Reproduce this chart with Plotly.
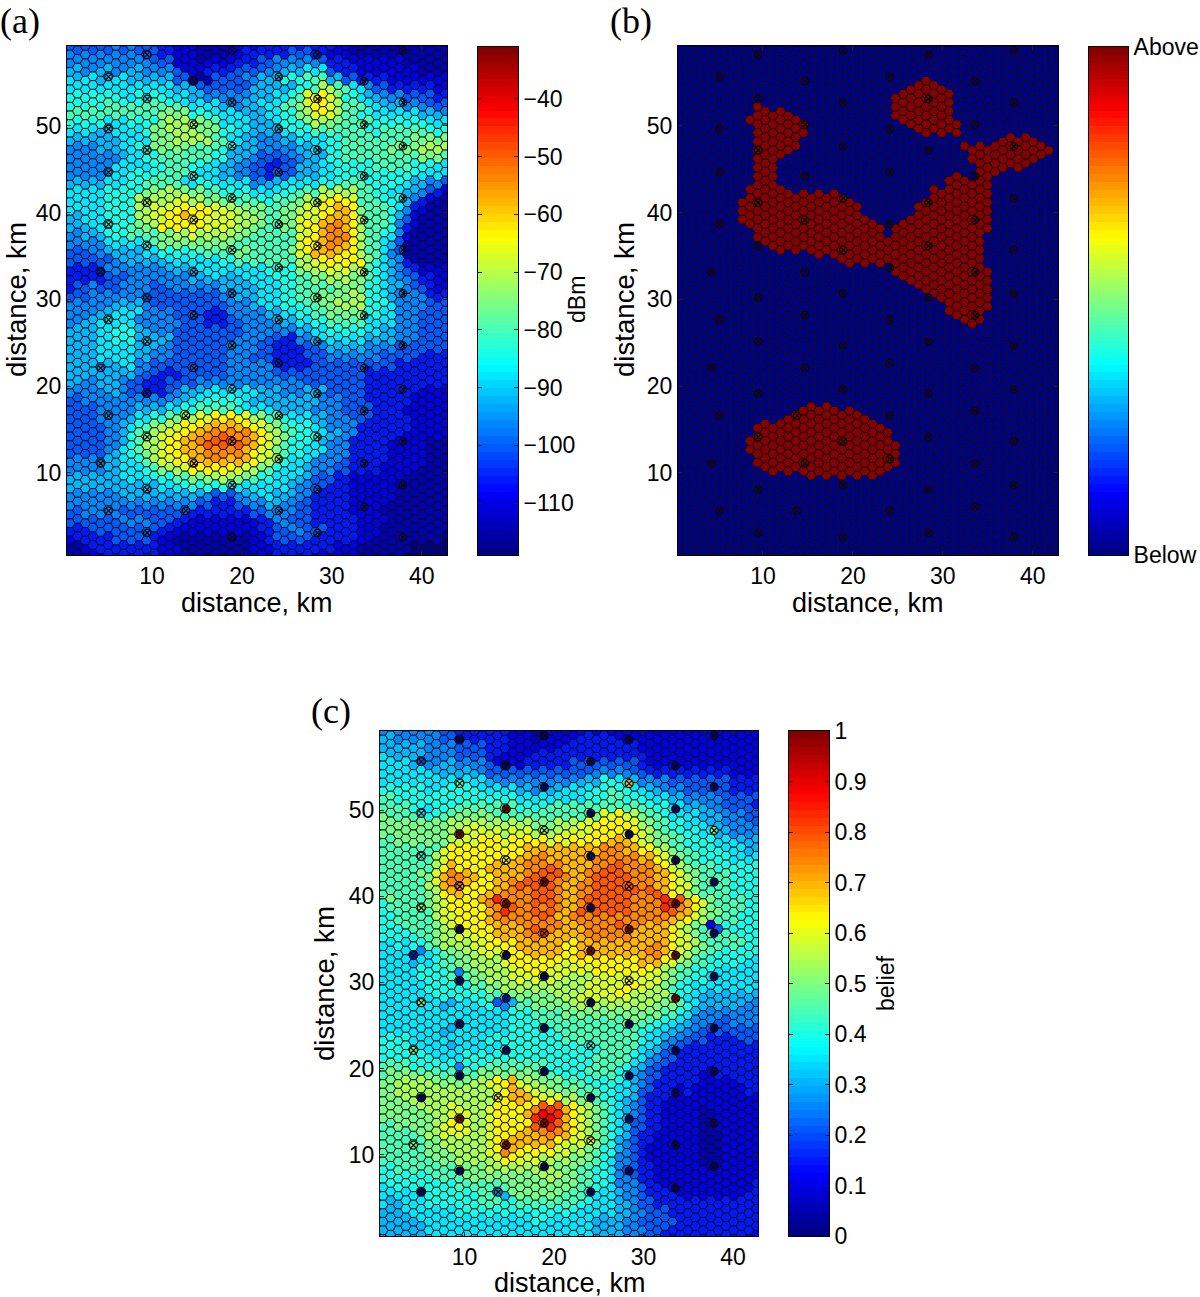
import plotly.graph_objects as go

W, H = 1200, 1297
X_STEP, X0, N_COLS = 0.852, 0.88, 50
RANGE_X, RANGE_Y = [0.55, 42.8], [0.55, 59.2]
X_TICKS = [10, 20, 30, 40]
Y_TICKS = [10, 20, 30, 40, 50]
DBM_RANGE = [-119, -31]
DBM_TICKS = [-40, -50, -60, -70, -80, -90, -100, -110]
BELIEF_TICKS = [0, .1, .2, .3, .4, .5, .6, .7, .8, .9, 1]
BELIEF_LABELS = ["0", "0.1", "0.2", "0.3", "0.4", "0.5", "0.6", "0.7", "0.8", "0.9", "1"]
LEVELS = "0123456789abcdefghij"

# Signal strength (a) as colour levels, top row (59 km) first
PANEL_A_ROWS = [
"4444455554 4333222111 1222233333 3333322211 1111111111",
"5454545454 4433222111 1223333334 4433222111 1111111111",
"5555555555 5444222122 2233344555 5554333222 2222111111",
"6655665566 5555422233 3344445566 6777433322 2222221111",
"7677667766 6666441114 4445566688 8999664433 3322222222",
"77 7777777777 7766644444 4466666688 9bb9977544 3333332222",
"88 8888877878 8777665555 556667789c ddca887665 5544443322",
"88 8889989899 9897777765 56677799ac ddcb999776 6655544433",
"99 9999999999 aaaa888777 7666778 8ab cdcb998877 7777666555",
"88 8887778888 abbbbaa977 776667888a bbaa999988 8888877777",
"77 776677778a abbbbaaa88 7766667888 9999999889 9999988888",
"66 666667777a aabbbbb997 7665556677 7788999999 999aaaaa99",
"55 556667788a aaaa999988 6665555566 7788999999 aaaabbbb99",
"55 5555567788 9999999886 6654444556 6688999999 9999aaa988",
"5 5555577777 8899988776 6554433446 6677888889 9999888777",
"5 5555577888 8999987776 6554434446 6677888888 8888877777",
"6666677788 9999977887 7777556677 7778889998 8888766554",
"7777788888 aabbbaaa99 8888777788 999bbbbb99 8877665432",
"777778888b bbbbccbbaa a999988999 abbcdddc99 9888653211",
"777778888b bcccdddddc cbbaaa99aa bccddeeda9 9987532111",
"667778888b bccddeddcc ccbbba99aa cccdeeedb9 9986421111",
"666778889a abddddddcc ccbbaa99aa cddeffedb9 9985321111",
"5566688899 99aabbcbbb bbaa999999 ccdefffdb9 9875211111",
"5555577777 89aaaaaaaa aa99999999 cddeffedb9 9764111111",
"4445566666 7788888999 99aa99999a cdeeeeddb9 9754111111",
"4444445666 6667777777 8899999999 bbcdddddda 8765311111",
"3333355555 5556666777 7777778888 abbccccbb9 8765432222",
"3333344455 5555556667 6667777888 99aabbbaa9 8765543322",
"3445444555 5445555555 6666677788 99999aaaa8 8766544322",
"4445555555 4444444444 5566677788 99aaaaabb8 8765555333",
"5555556666 5444444444 4555677788 899aabbbb8 8875555444",
"5555667777 5555444433 3555556677 8899aaaaa8 8775554444",
"5566777775 5555544433 3445555666 7788999997 7775554444",
"6666778886 6555444444 4445555555 6677888887 7665554444",
"6666778886 6666444444 4455554433 5567777776 6665554444",
"6666777776 6655444444 4555544333 3445666665 5554444444",
"6666777776 6555444444 4555444333 3444555555 5444443333",
"6666566775 5444444444 4555555333 3344444444 4443333333",
"6666666665 4433344444 4555555444 4444444443 3333333333",
"6655666544 3334444555 5555555555 5444444443 3333333333",
"5555566544 3334566677 7777766655 5666444443 3333332222",
"4455555555 5555667788 8887666666 6665554443 3333322222",
"4444555556 6667788999 9987777666 6655554444 3333222222",
"4444555567 7889abbccd dddcba9987 7766555444 3333322222",
"4444455678 9abbcdddee eeeddcba98 8876555533 3333322222",
"4444455689 abccddeeff gfffedcba9 8887665533 3333222222",
"4444455689 bbcddeefgg gggfedcb98 8876555333 3322222111",
"4444456789 abcddeeeff fffedcca98 8777555333 3322222111",
"5555566778 9bccddeeef eeeedcbb87 7755554333 3322222111",
"5555566777 89abbcdddd ddccba9877 7655544333 3222221111",
"6666666777 788899aaab bbaa988777 6644433222 2222111111",
"6666666666 6677788888 8877777776 5544333222 2221111111",
"5555555666 6666666654 4456677666 5533333222 2221111111",
"5555555555 5555555443 3345556655 4433333222 2211111111",
"4455555444 4444443333 3333445555 4433333222 2111111111",
"4444444555 5444332222 2222233554 4433333322 2211111111",
"3334444444 4433222222 2222233445 5444333322 2111111111",
"2333334444 4322111111 1111223444 4433333322 1111111110",
"1123333333 3322211111 1111222333 3333322211 1111100000",
"1122233333 3322211111 1111222333 3322222211 1111000000",
]

# Belief (c) as colour levels, top row first
PANEL_C_ROWS = [
"5555555544 3333333322 1122222222 2222222222 2222222222",
"6655555544 2333333222 1122223333 3222222222 2222222222",
"6666665555 4444333222 2222333333 3333222222 2222222222",
"7666665555 4444332222 3333333333 3333322222 2222222222",
"7777665566 5555422223 3333344444 4444322222 2222222222",
"7777777666 6665444444 4444444455 5554433333 3333332222",
"7777777777 8777655555 5555556668 8776555544 4444443333",
"8888887788 8887777766 5666777788 9887766555 4444443333",
"9988888888 8888888877 7777777888 9988877766 5555544444",
"9999887888 9999999988 8899999999 9999988877 6665544443",
"a999988899 aaaaa99999 99999999ac cdcba99877 7766655544",
"aaaaaaaaab bbcbbbbbbb aaabbbccdd dddcba9988 7776655554",
"aaaaaaaaab bcccccbccc bbbbccccdd ddddcba998 8877665555",
"99aaaaaaab cccdddcddd ddcdcddddd eeedcbaa99 8888777666",
"99999999cd dddddddddee eeeeeeeef ffeeddcba9 9888877766",
"9999999bcd ddddddddee ffeeeeeeff ffffeedcba 9988887777",
"9999999bde ddddeeeeef ffgfeeeeff ggffffedcb a999888888",
"99999aacef feeddeeeef ggggfeefgg gggfffeedc ba99998888",
"999999bcef fedddeefgg gggfeeffgg gggfffeedc ca99998888",
"999999abde edddeeffff gggfeeffgg ggggfggedc ba99998888",
"8a9999abcd dddefhgfff gggfeefggg gggffffhhg edca999988",
"8999999bcd ddddefhgff gfgfeegggg gggffffhgf edbaa99988",
"8899999bcc ddddefffff fgfeefffff ffffffffee dcba999888",
"8889999abc dddddeeeef gfffeeefff fgffeeeedc ba92488888",
"8888899abb cccddeeeef ffeeeeefff fffeeeeedc ca99999888",
"7787889abb bbccddddee eeeeddeeee eeeeeefedc cba9999988",
"777775789a abbcccddde eeeeddeeee eeeeeffedc ba99888888",
"7777677899 aabbbbcddd ddddcddddd ddddeeedcb a998888877",
"7777788889 5aabbbbccd ddccccccdd ddddddcba9 9888777777",
"7777788889 89aabbbccc ccccbbbbcc cccccccba9 8887777777",
"7777778888 8899aabbbb bbbbbbbccc ccddccba98 8777777777",
"7777777888 8888999aaa aaabbbcccc cdcbbbbba8 7766666666",
"7777777766 7778845699 aaaaabbbbb bbbbbbaaa9 8766666655",
"7777777777 7777777888 9999aaaaaa aaaaaaa998 7655555555",
"7777777777 7777777888 8999999999 99aa998877 6555445555",
"7777777766 7777777888 8889999999 9999887766 5544444444",
"8888777777 7777888888 8888999999 9999877655 4443333444",
"8888777776 7777778888 8888888889 9999776544 3333333333",
"8888888777 7888888888 8888888899 9998765443 3333333333",
"9999888888 5888999999 9988888899 9987654433 3333333333",
"9aaaa9a999 899aaaaaaa a998888999 9876544333 3322333333",
"aabbbbbaaa aabbcddecb baaa999888 8876543333 3322222333",
"aabbbbbbbb bbbbbcdeec cbbaaa9998 8776443332 3222222233",
"aaabbbbbbb bbbbbddeee dcdcbbaa98 8766433322 2222222222",
"aaaaabbbbc cbbbcddddd fghgedcba9 8765433222 2212222222",
"aaaaaaabbc ccbbcdddde hiihedcba9 8765433222 2211222222",
"99aaaaabcd dcbbcddddd gghgedcba9 8764433222 2211222222",
"99999abbcc ccbbcdddee efffedcba9 8764332222 2211122222",
"999999aabb bbbbcdfeee eeedcccba9 8654332222 2211122222",
"999999aaab bbbbcdfedd dddccbba98 8654322222 2211122222",
"9999999aaa bbbbbcddcc cbbbbaaa98 7554322222 2211122222",
"8899999999 aaaabbbbbb bbbaaa9988 7544332222 2221222222",
"8888888999 9aaaaaaaaa abbbaa9988 7554332222 2222222222",
"7888888888 9999999aaa aaaaaa9988 7555433222 2222222223",
"7777778888 8889956aaa aaaa999877 7655433332 2222222233",
"7667778888 8889998899 9999998877 7665443333 3333333333",
"6667777777 8888888888 8888887777 7665544433 3333333333",
"6666677777 7777777777 8877777766 6655444443 3333333333",
"6666667777 7777777777 7777777766 6655544433 3333333333",
"6666666777 7777777777 7777777766 6655444333 3333333322",
]

# Cells above the threshold in panel (b): row index -> column runs
MASK_RUNS = {
55: [(32, 32)], 54: [(30, 34)], 53: [(28, 35)], 52: [(10, 10), (28, 35)],
51: [(10, 14), (28, 35)], 50: [(9, 16), (29, 36)], 49: [(10, 16), (31, 36)],
48: [(10, 15), (42, 46)], 47: [(10, 15), (37, 48)], 46: [(10, 13), (38, 47)],
45: [(10, 12), (39, 45)], 44: [(10, 12), (36, 36), (39, 41)],
43: [(10, 12), (35, 40)], 42: [(9, 14), (16, 16), (18, 18), (20, 20), (33, 40)],
41: [(8, 22), (32, 40)], 40: [(8, 23), (31, 40)], 39: [(8, 24), (30, 40)],
38: [(9, 26), (28, 40)], 37: [(10, 26), (28, 39)], 36: [(11, 39)],
35: [(13, 13), (15, 15), (17, 39)], 34: [(21, 39)], 33: [(28, 40)],
32: [(29, 40)], 31: [(31, 40)], 30: [(33, 40)], 29: [(35, 40)], 28: [(35, 39)],
27: [(37, 39)],
17: [(16, 20), (22, 22)], 16: [(14, 24)], 15: [(10, 26)], 14: [(10, 27)],
13: [(9, 28)], 12: [(9, 28)], 11: [(10, 28)], 10: [(11, 27)],
9: [(17, 17), (19, 19), (21, 21), (23, 23), (25, 25)],
}

# Sensor locations, km, four per row
SENSOR_ROWS = [
[(9.47, 58.2), (18.92, 58.65), (28.4, 58.2), (37.9, 58.65)],
[(5.17, 55.65), (14.66, 55.15), (24.11, 55.65), (33.6, 55.15)],
[(9.47, 53.1), (18.92, 52.7), (28.4, 53.1), (37.9, 52.7)],
[(5.17, 49.65), (14.66, 50.15), (24.11, 49.65), (33.6, 50.15)],
[(9.47, 47.2), (18.92, 47.65), (28.4, 47.2), (37.9, 47.65)],
[(5.17, 44.65), (14.66, 44.2), (24.11, 44.65), (33.6, 44.2)],
[(9.47, 41.15), (18.92, 41.65), (28.4, 41.15), (37.9, 41.65)],
[(5.17, 38.65), (14.66, 39.15), (24.11, 38.65), (33.6, 39.15)],
[(9.47, 36.15), (18.92, 35.7), (28.4, 36.15), (37.9, 35.7)],
[(4.29, 33.15), (14.66, 33.15), (24.11, 33.65), (33.6, 33.15)],
[(9.47, 30.2), (18.92, 30.7), (28.4, 30.2), (37.9, 30.7)],
[(5.17, 27.65), (14.66, 28.15), (24.11, 27.65), (33.6, 28.15)],
[(9.47, 25.15), (18.92, 24.7), (28.4, 25.15), (37.9, 24.7)],
[(4.29, 22.1), (14.66, 22.1), (24.11, 22.65), (33.6, 22.1)],
[(9.47, 19.15), (18.92, 19.65), (28.4, 19.15), (37.9, 19.65)],
[(5.17, 16.6), (13.77, 16.6), (24.11, 16.6), (33.6, 17.15)],
[(9.47, 14.15), (18.92, 13.65), (28.4, 14.15), (37.9, 13.65)],
[(4.29, 11.1), (14.66, 11.1), (24.11, 11.6), (33.6, 11.1)],
[(9.47, 8.1), (18.92, 8.6), (28.4, 8.1), (37.9, 8.6)],
[(5.17, 5.65), (13.77, 5.65), (24.11, 5.65), (33.6, 6.1)],
[(9.47, 3.1), (18.92, 2.6), (28.4, 3.1), (37.9, 2.6)],
]
# Belief level shown at each sensor in panel (c); the last sensor row is not drawn there
SENSOR_C_LEVELS = ["0000", "4000", "90e0", "7j00", "jb0a", "8d00", "fjg0", "aj0j", "0hj0", "30jj",
                   "00d0", "a30j", "0000", "a080", "0000", "0d00", "jj00", "ajd0", "0000", "0500"]


def jet(v):
    def ch(t):
        return max(0.0, min(1.0, t))
    r = ch(min(4 * v - 1.5, -4 * v + 4.5))
    g = ch(min(4 * v - 0.5, -4 * v + 3.5))
    b = ch(min(4 * v + 0.5, -4 * v + 2.5))
    return f"rgb({round(r*255)},{round(g*255)},{round(b*255)})"


JET64 = []
for n in range(64):
    c = jet((n + 0.5) / 64)
    JET64 += [[n / 64, c], [(n + 1) / 64, c]]


def level_value(ch):
    return LEVELS.index(ch) * 0.0485 + 0.01


def decode(rows):
    xs, ys, vs = [], [], []
    for r, row in enumerate(rows):
        k = len(rows) - 1 - r
        row = row.replace(" ", "")
        row = row.ljust(N_COLS, row[-1])[:N_COLS]
        for i, ch in enumerate(row):
            xs.append(X0 + X_STEP * i)
            ys.append(k + (0.7 if i % 2 else 0.2))
            vs.append(level_value(ch))
    return xs, ys, vs


def mask_values():
    xs, ys, vs = [], [], []
    for k in range(60):
        for i in range(N_COLS):
            xs.append(X0 + X_STEP * i)
            ys.append(k + (0.7 if i % 2 else 0.2))
            vs.append(1 if any(a <= i <= b for a, b in MASK_RUNS.get(k, [])) else 0)
    return xs, ys, vs


def px(x):
    return x / W


def py(y):
    return 1 - y / H


fig = go.Figure()
ANN = []
FONT = "Liberation Sans"


def add_axes(n, box, xr, yr, xticks=None, yticks=None, yside="left", ylabels=None):
    sfx = "" if n == 1 else str(n)
    common = dict(showgrid=False, zeroline=False, showline=True, linecolor="black", linewidth=1,
                  mirror="ticks", ticks="inside", ticklen=4, tickcolor="#222", tickwidth=1, automargin=False,
                  tickfont=dict(family=FONT, size=23, color="black"))
    xa = dict(common, domain=[px(box[0]), px(box[2])], range=xr, anchor=f"y{sfx}", tickmode="array",
              tickvals=xticks or [], ticktext=[str(t) for t in (xticks or [])])
    ya = dict(common, domain=[py(box[3]), py(box[1])], range=yr, anchor=f"x{sfx}", side=yside,
              tickmode="array", tickvals=yticks or [],
              ticktext=ylabels or [str(t).replace("-", "\u2212") for t in (yticks or [])])
    fig.update_layout({f"xaxis{sfx}": xa, f"yaxis{sfx}": ya})
    return f"x{sfx}", f"y{sfx}"


def add_panel(n, box, cells, hex_size, cmin, cmax, sensors, sensor_values=None):
    xa, ya = add_axes(n, box, RANGE_X, RANGE_Y, X_TICKS, Y_TICKS)
    fig.add_trace(go.Scatter(
        x=cells[0], y=cells[1], xaxis=xa, yaxis=ya, mode="markers", hoverinfo="skip", showlegend=False,
        marker=dict(symbol="hexagon2", size=hex_size, color=cells[2], colorscale=JET64, cmin=cmin, cmax=cmax,
                    line=dict(color="#101010", width=1.0))))
    sx = [p[0] for row in sensors for p in row]
    sy = [p[1] for row in sensors for p in row]
    if sensor_values is None:
        marker = dict(symbol="circle-x-open", size=7.5, color="#0a0a0a", line=dict(color="#0a0a0a", width=1.2))
    else:
        marker = dict(symbol="circle-x", size=8, color=sensor_values, colorscale=JET64, cmin=cmin, cmax=cmax,
                      line=dict(color="#0a0a0a", width=1.2))
    fig.add_trace(go.Scatter(x=sx, y=sy, xaxis=xa, yaxis=ya, mode="markers", hoverinfo="skip",
                             showlegend=False, marker=marker))


def add_colorbar(n, box, lo, hi, ticks, labels=None):
    xa, ya = add_axes(n, box, [0, 1], [lo, hi], yticks=ticks, yside="right", ylabels=labels)
    step = (hi - lo) / 64
    fig.add_trace(go.Heatmap(
        z=[[lo + step * (j + 0.5)] for j in range(64)], x=[0.5], y=[lo + step * (j + 0.5) for j in range(64)],
        dx=1, dy=step, xaxis=xa, yaxis=ya, colorscale=JET64, zmin=lo, zmax=hi, showscale=False, hoverinfo="skip"))


def text(x, y, s, size=27.6, angle=0, family=FONT):
    ANN.append(dict(x=px(x), y=py(y), xref="paper", yref="paper", text=s, showarrow=False, textangle=angle,
                    xanchor="center", yanchor="middle", font=dict(family=family, size=size, color="black")))


a_cells = decode(PANEL_A_ROWS)
a_dbm = [DBM_RANGE[0] + (DBM_RANGE[1] - DBM_RANGE[0]) * v for v in a_cells[2]]
add_panel(1, (67, 46, 447, 555), (a_cells[0], a_cells[1], a_dbm), 10.2, DBM_RANGE[0], DBM_RANGE[1], SENSOR_ROWS)
add_colorbar(2, (478, 47, 518, 555), DBM_RANGE[0], DBM_RANGE[1], DBM_TICKS)

add_panel(3, (678, 46, 1058, 555), mask_values(), 10.2, 0, 1, SENSOR_ROWS)
add_colorbar(4, (1089, 47, 1128, 555), 0, 1, [0, 1], ["Below", "Above"])

c_cells = decode(PANEL_C_ROWS)
c_sensor_values = [level_value(ch) if ch != "j" else 0.98 for row in SENSOR_C_LEVELS for ch in row]
add_panel(5, (380, 731, 758, 1236), c_cells, 10.1, 0, 1, SENSOR_ROWS[:20], c_sensor_values)
add_colorbar(6, (789, 731, 829, 1236), 0, 1, BELIEF_TICKS, BELIEF_LABELS)

for x, y in [(257, 603), (868, 603), (570, 1283)]:
    text(x, y, "distance, km", size=27)
for x, y in [(16, 300), (624, 300), (324, 984)]:
    text(x, y, "distance, km", size=27.6, angle=-90)
text(577, 300, "dBm", size=23, angle=-90)
text(886, 983, "belief", size=23, angle=-90)
for x, y, s in [(20, 21, "(a)"), (631, 21, "(b)"), (331, 711, "(c)")]:
    text(x, y, s, size=36, family="Liberation Serif")

fig.update_layout(template="none", width=W, height=H, margin=dict(l=0, r=0, t=0, b=0), autosize=False,
                  paper_bgcolor="white", plot_bgcolor="white", annotations=ANN, showlegend=False,
                  font=dict(family=FONT))
fig.write_html("out.html", config={"displayModeBar": False},
               post_script="document.body.style.margin='0';document.body.style.overflow='hidden';")
